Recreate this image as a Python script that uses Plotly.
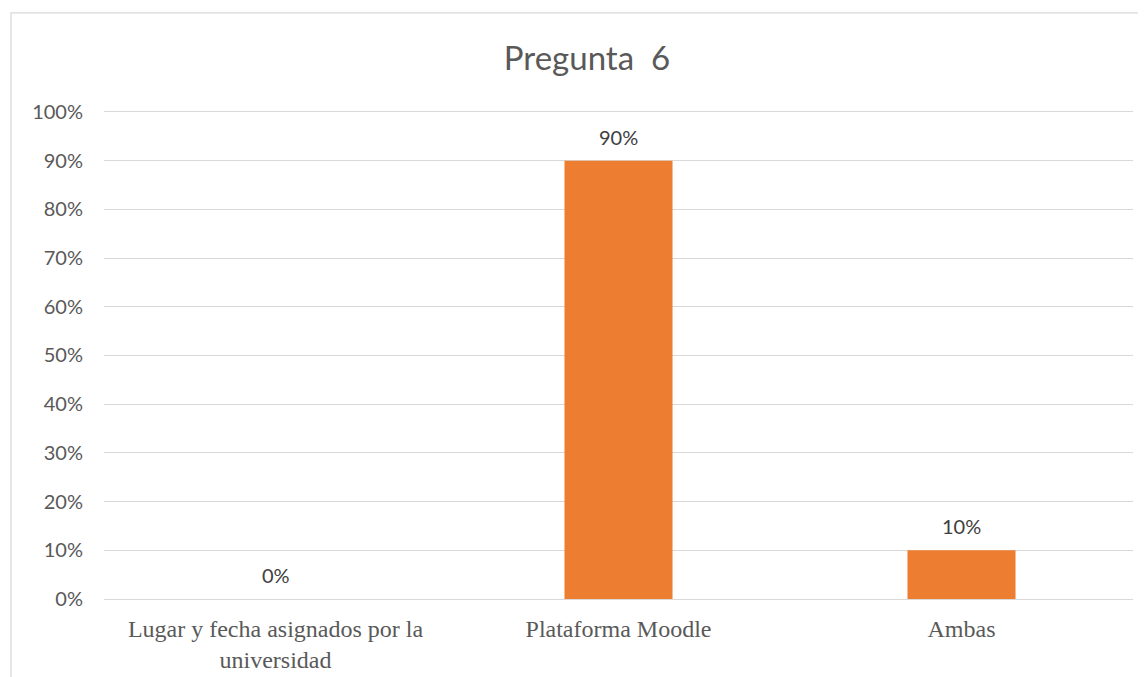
import plotly.graph_objects as go

categories = ["Lugar y fecha asignados por la<br>universidad", "Plataforma Moodle", "Ambas"]
values = [0.0, 0.90, 0.10]
labels = ["0%", "90%", "10%"]
tick_vals = [0, 0.1, 0.2, 0.3, 0.4, 0.5, 0.6, 0.7, 0.8, 0.9, 1.0]
tick_text = ["0%", "10%", "20%", "30%", "40%", "50%", "60%", "70%", "80%", "90%", "100%"]

sans = "Lato, Open Sans, sans-serif"
serif = "Liberation Serif, Times New Roman, serif"

fig = go.Figure(go.Bar(
    x=categories, y=values,
    marker=dict(color="#ED7D31", line=dict(width=0)),
    hoverinfo="x+y",
))

annotations = [
    dict(x=c, y=v, text=t, xref="x", yref="y", showarrow=False,
         yanchor="middle", yshift=24,
         font=dict(family=sans, size=20, color="#404040"))
    for c, v, t in zip(categories, values, labels)
]

W, H = 1138, 669
fig.update_layout(
    width=W, height=H,
    margin=dict(l=96, r=13, t=101, b=78),
    paper_bgcolor="white", plot_bgcolor="white",
    bargap=0.685,
    showlegend=False,
    title=dict(text="Pregunta  6", x=579/W, xanchor="center", y=1-50/H, yanchor="middle",
               font=dict(family=sans, size=33, color="#595959")),
    xaxis=dict(showgrid=False, showline=False, ticks="", ticklabelstandoff=13, automargin=False,
               tickfont=dict(family=serif, size=24, color="#595959")),
    yaxis=dict(range=[0, 1.006], tickvals=tick_vals, ticktext=tick_text, automargin=False,
               showgrid=True, gridcolor="#D9D9D9", gridwidth=1.3, zeroline=True, zerolinecolor="#D9D9D9",
               zerolinewidth=1.3, showline=False, ticks="", ticklabelstandoff=20,
               tickfont=dict(family=sans, size=20, color="#595959")),
    annotations=annotations,
    shapes=[dict(type="rect", xref="paper", yref="paper",
                 x0=(3-96)/1029, x1=1.05, y0=-0.3, y1=(590.5-5)/489.5,
                 line=dict(color="#D9D9D9", width=1.3), fillcolor="rgba(0,0,0,0)", layer="below")],
)

fig.write_html("out.html")
